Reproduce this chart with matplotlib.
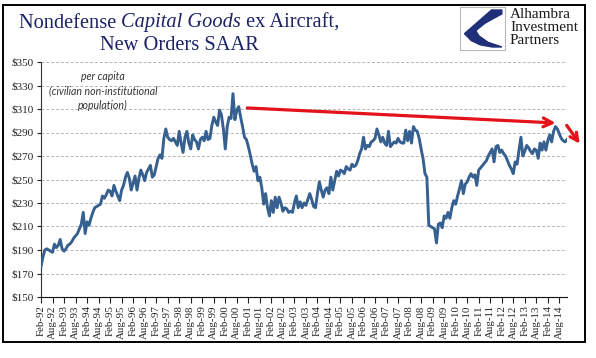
"""Nondefense capital goods ex aircraft, new orders per capita (SAAR)."""
import matplotlib

matplotlib.use("Agg")
import matplotlib.pyplot as plt
import pandas as pd
from matplotlib.patches import Polygon, Rectangle

# monthly values, Feb-92 .. Dec-14 (dollars per capita)
Y1992 = [176, 184, 190, 191, 190, 189, 188, 195, 192, 194, 199]
Y1993 = [191, 189, 191, 194, 195, 197, 200, 202, 204, 208, 212, 222]
Y1994 = [204, 214, 211, 217, 222, 226, 227, 228, 229, 236, 234, 237]
Y1995 = [241, 240, 236, 245, 240, 236, 232, 241, 245, 252, 256, 251]
Y1996 = [241, 247, 253, 241, 251, 258, 254, 249, 256, 259, 262, 252]
Y1997 = [254, 261, 268, 271, 268, 285, 293, 286, 284, 283, 285, 282]
Y1998 = [279, 291, 281, 273, 286, 291, 281, 276, 288, 284, 282, 276]
Y1999 = [284, 286, 283, 291, 284, 285, 296, 303, 299, 296, 309, 305]
Y2000 = [293, 276, 295, 303, 302, 323, 301, 309, 312, 303, 295, 286]
Y2001 = [284, 278, 271, 263, 257, 261, 249, 252, 243, 229, 238, 226]
Y2002 = [219, 232, 222, 235, 226, 235, 230, 223, 226, 225, 222, 223]
Y2003 = [222, 230, 236, 226, 231, 226, 230, 228, 233, 238, 233, 227]
Y2004 = [226, 238, 248, 241, 235, 241, 243, 238, 252, 241, 249, 257]
Y2005 = [253, 258, 257, 255, 261, 259, 258, 263, 261, 262, 266, 272]
Y2006 = [276, 286, 276, 279, 278, 282, 283, 285, 293, 288, 282, 286]
Y2007 = [281, 279, 291, 278, 280, 282, 281, 285, 282, 281, 281, 292]
Y2008 = [283, 291, 281, 295, 292, 291, 285, 276, 268, 255, 252, 211]
Y2009 = [210, 209, 208, 196, 212, 213, 209, 219, 217, 222, 217, 226]
Y2010 = [232, 229, 236, 242, 249, 238, 246, 248, 252, 255, 252, 254]
Y2011 = [245, 258, 260, 262, 264, 266, 270, 273, 276, 265, 278, 279]
Y2012 = [273, 275, 272, 270, 266, 262, 259, 255, 265, 263, 275, 286]
Y2013 = [270, 274, 279, 277, 274, 272, 276, 275, 268, 281, 275, 282]
Y2014 = [275, 283, 288, 282, 291, 295, 293, 289, 285, 283, 282, 284]

YEARS = [Y1992, Y1993, Y1994, Y1995, Y1996, Y1997, Y1998, Y1999, Y2000,
         Y2001, Y2002, Y2003, Y2004, Y2005, Y2006, Y2007, Y2008, Y2009,
         Y2010, Y2011, Y2012, Y2013, Y2014]

Y_TICKS = list(range(150, 351, 20))

# red trend arrows, (month index, value)
TREND_START = (106, 311)
TREND_END = (269.5, 298)
TURN_START = (273, 298)
TURN_END = (281.5, 278.5)

TITLE_LINE1 = [("Nondefense ", "normal"), ("Capital Goods", "italic"), (" ex Aircraft,", "normal")]
TITLE_LINE2 = "New Orders SAAR"
NOTE = "per capita\n(civilian non-institutional\npopulation)"
LOGO_LINES = ["Alhambra", "Investment", "Partners"]

LINE_COLOR = "#36608f"
RED = "#e3121b"
TITLE_COLOR = "#1b2266"
SERIF = "Liberation Serif"
TITLE_SIZE = 14.7


def main():
    values = [v for year in YEARS for v in year]
    dates = pd.date_range("1992-02-01", periods=len(values), freq="MS")
    x = list(range(len(values)))

    fig = plt.figure(figsize=(5.96, 3.58), dpi=100)
    ax = fig.add_axes([41 / 596, 61 / 358, 526 / 596, 235 / 358])

    ax.plot(x, values, color=LINE_COLOR, linewidth=2.1, solid_joinstyle="round", zorder=3)

    ax.set_xlim(0, len(values) - 1)
    ax.set_ylim(150, 350)
    ax.set_yticks(Y_TICKS)
    ax.set_yticklabels([f"${v}" for v in Y_TICKS], family=SERIF, fontsize=8)
    xt = x[::6]
    ax.set_xticks(xt)
    ax.set_xticklabels([dates[i].strftime("%b-%y") for i in xt], rotation=90,
                       family=SERIF, fontsize=7.8)
    ax.tick_params(axis="x", length=4, width=0.8, pad=2, colors="#222222")
    ax.tick_params(axis="y", length=3, width=0.8, pad=2, colors="#222222")
    ax.grid(axis="y", color="#b5b5b5", linestyle=(0, (3, 2)), linewidth=0.7)
    ax.set_axisbelow(True)
    for side in ("top", "right"):
        ax.spines[side].set_visible(False)
    ax.spines["left"].set_color("#333333")
    ax.spines["bottom"].set_color("#111111")

    ax.text(0.118, 0.877, NOTE, transform=ax.transAxes, ha="center", va="center",
            family="Lato", style="italic", fontsize=7.6, color="#333333", linespacing=1.4)

    ax.annotate("", xy=TREND_END, xytext=TREND_START,
                arrowprops=dict(arrowstyle="->", color=RED, lw=2.3, mutation_scale=16))
    ax.annotate("", xy=TURN_END, xytext=TURN_START, annotation_clip=False,
                arrowprops=dict(arrowstyle="->", color=RED, lw=2.3, mutation_scale=14))

    # title with italic middle part, centred around x=179px
    renderer = fig.canvas.get_renderer()
    pieces = [fig.text(0, 1 - 23 / 358, s, style=st, family=SERIF, fontsize=TITLE_SIZE,
                       color=TITLE_COLOR, va="center", ha="left") for s, st in TITLE_LINE1]
    widths = [p.get_window_extent(renderer).width for p in pieces]
    left = 179 - sum(widths) / 2
    for p, w in zip(pieces, widths):
        p.set_x(left / 596)
        left += w
    fig.text(179 / 596, 1 - 45 / 358, TITLE_LINE2, family=SERIF, fontsize=TITLE_SIZE,
             color=TITLE_COLOR, ha="center", va="center")

    # logo
    lax = fig.add_axes([460 / 596, 1 - 50 / 358, 45 / 596, 43 / 358])
    lax.set_xlim(0, 1)
    lax.set_ylim(0, 1)
    lax.set_xticks([])
    lax.set_yticks([])
    for s in lax.spines.values():
        s.set_color("#b8b8b8")
        s.set_linewidth(0.8)
    swoosh = [(0.93, 0.93), (0.7, 0.93), (0.1, 0.38), (0.25, 0.22), (0.45, 0.12),
              (0.72, 0.07), (0.93, 0.07), (0.62, 0.18), (0.42, 0.33), (0.35, 0.45),
              (0.55, 0.62), (0.93, 0.84)]
    lax.add_patch(Polygon(swoosh, closed=True, color="#1f2f78"))
    for i, s in enumerate(LOGO_LINES):
        fig.text(510 / 596, 1 - (15 + 12.5 * i) / 358, s, family=SERIF, fontsize=11,
                 color="#1a1a1a", va="center", ha="left")

    fig.patches.append(Rectangle((3 / 596, 16 / 358), 582 / 596, 337 / 358,
                                 transform=fig.transFigure, fill=False,
                                 edgecolor="black", linewidth=1.4))

    fig.savefig("out.png", dpi=100)
    plt.close(fig)


if __name__ == "__main__":
    main()
